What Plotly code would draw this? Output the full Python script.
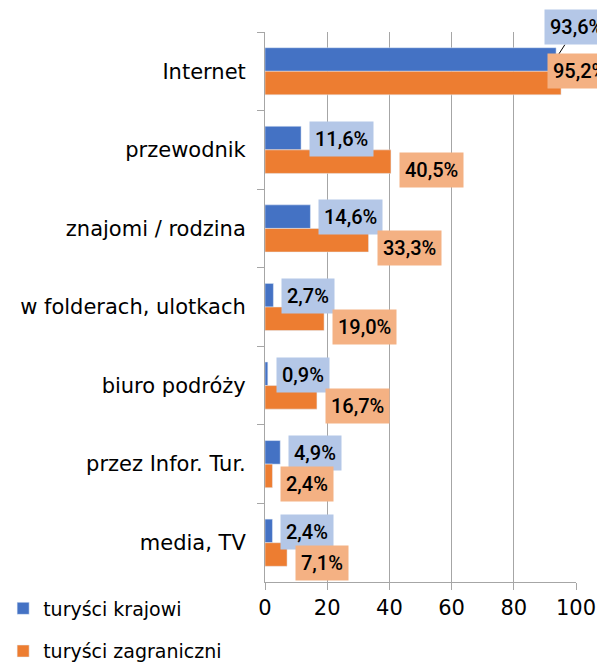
import plotly.graph_objs as go

categories = ["Internet", "przewodnik", "znajomi / rodzina", "w folderach, ulotkach",
              "biuro podróży", "przez Infor. Tur.", "media, TV"]
krajowi = [93.6, 11.6, 14.6, 2.7, 0.9, 4.9, 2.4]
zagraniczni = [95.2, 40.5, 33.3, 19.0, 16.7, 2.4, 7.1]
x_ticks = [0, 20, 40, 60, 80, 100]

BLUE = "#4472c4"
ORANGE = "#ed7d31"
BLUE_BG = "#b4c7e7"
ORANGE_BG = "#f4b183"

LABEL_FONT = dict(family="Roboto, sans-serif", size=20, color="black", weight=500)


def pct(v):
    return f"{v:.1f}%".replace(".", ",")


fig = go.Figure()
fig.add_trace(go.Bar(y=categories, x=krajowi, orientation="h", name="turyści krajowi",
                     marker_color=BLUE, legendgroup="k"))
fig.add_trace(go.Bar(y=categories, x=zagraniczni, orientation="h", name="turyści zagraniczni",
                     marker_color=ORANGE, legendgroup="z"))

annotations = []
for cat, vk, vz in zip(categories, krajowi, zagraniczni):
    if cat == "Internet":
        # labels pushed against the right edge, blue one with a leader line
        annotations.append(dict(x=vk, y=cat, text=pct(vk), showarrow=True, arrowhead=0,
                                arrowwidth=1, arrowcolor="black", ax=20, ay=-31, yshift=13,
                                bgcolor=BLUE_BG, borderpad=5, font=LABEL_FONT))
        annotations.append(dict(x=vz, y=cat, text=pct(vz), showarrow=False, xanchor="left",
                                xshift=-14, yshift=0, bgcolor=ORANGE_BG, borderpad=5,
                                font=LABEL_FONT))
        continue
    annotations.append(dict(x=vk, y=cat, text=pct(vk), showarrow=False, xanchor="left",
                            xshift=8, yshift=11, bgcolor=BLUE_BG, borderpad=5, font=LABEL_FONT))
    annotations.append(dict(x=vz, y=cat, text=pct(vz), showarrow=False, xanchor="left",
                            xshift=8, yshift=-20, bgcolor=ORANGE_BG, borderpad=5, font=LABEL_FONT))

# page body has an 8px margin, so the figure is drawn 8px smaller
fig.update_layout(
    width=597, height=654,
    margin=dict(l=257, r=29, t=24, b=80, autoexpand=False),
    plot_bgcolor="white", paper_bgcolor="white",
    barmode="group", bargap=0.4, bargroupgap=0,
    font=dict(family="DejaVu Sans, sans-serif", size=17, color="black"),
    annotations=annotations,
    legend=dict(orientation="v", x=-0.842, xanchor="left", y=-0.0136, yanchor="top",
                traceorder="grouped", font=dict(size=19), itemwidth=30,
                tracegroupgap=15),
    showlegend=True,
)
fig.update_xaxes(range=[0, 100], tickvals=x_ticks, showgrid=True, gridcolor="#a6a6a6",
                 gridwidth=1, showline=True, linecolor="#a6a6a6", ticks="outside",
                 tickcolor="#a6a6a6", ticklen=7, tickfont=dict(size=21), zeroline=False)
fig.update_yaxes(autorange="reversed", showline=True, linecolor="#a6a6a6", ticks="outside",
                 tickson="boundaries", tickcolor="#a6a6a6", ticklen=7, ticklabelstandoff=14,
                 tickfont=dict(size=21))

fig.write_html("out.html")
